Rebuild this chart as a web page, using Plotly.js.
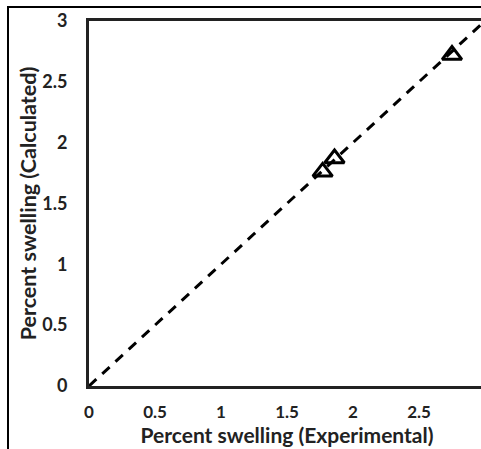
<!DOCTYPE html>
<html>
<head>
<meta charset="utf-8">
<script src="https://cdn.plot.ly/plotly-3.0.1.min.js"></script>
<style>
html,body{margin:0;padding:0;overflow:hidden;background:#fff;width:481px;height:449px;}
#frame{position:absolute;left:7px;top:6px;width:600px;height:600px;border-left:2px solid #000;border-top:2px solid #000;pointer-events:none;z-index:5;}
#chart{position:absolute;left:0;top:0;width:490px;height:449px;}
</style>
</head>
<body>
<div id="chart"></div>
<div id="frame"></div>
<script>
const experimental = [1.77, 1.86, 2.75];
const calculated = [1.76, 1.87, 2.72];
const lineX = [0, 3];
const lineY = [0, 3];
const tickVals = [0, 0.5, 1, 1.5, 2, 2.5, 3];
const tickText = ['0', '0.5', '1', '1.5', '2', '2.5', '3'];

const font = 'Lato, "Open Sans", sans-serif';

const traces = [
  {
    x: lineX, y: lineY, mode: 'lines', type: 'scatter',
    line: {color: '#000', width: 3, dash: '10px,8px'},
    hoverinfo: 'skip', showlegend: false
  },
  {
    x: experimental, y: calculated, mode: 'markers', type: 'scatter',
    marker: {symbol: 'triangle-up-open', size: 17, color: '#000', line: {color: '#000', width: 3}},
    showlegend: false, cliponaxis: false
  }
];

const layout = {
  width: 490, height: 449,
  margin: {l: 89, r: 5, t: 21, b: 63},
  paper_bgcolor: '#fff', plot_bgcolor: '#fff',
  showlegend: false,
  xaxis: {
    range: [0, 3], tickvals: tickVals, ticktext: tickText,
    showgrid: false, zeroline: false,
    showline: true, mirror: true, linecolor: '#222', linewidth: 3,
    ticks: '', ticklabelstandoff: 9,
    tickfont: {family: font, size: 17, color: '#222', weight: 'bold'},
    title: {text: 'Percent swelling (Experimental)', standoff: 2,
            font: {family: font, size: 21, color: '#222', weight: 'bold'}}
  },
  yaxis: {
    range: [0, 3], tickvals: tickVals, ticktext: tickText,
    showgrid: false, zeroline: false,
    showline: true, mirror: true, linecolor: '#222', linewidth: 3,
    ticks: '', ticklabelstandoff: 15,
    tickfont: {family: font, size: 18, color: '#222', weight: 'bold'},
    title: {text: 'Percent swelling (Calculated)', standoff: 0,
            font: {family: font, size: 21.5, color: '#222', weight: 'bold'}}
  }
};

Plotly.newPlot('chart', traces, layout, {staticPlot: true, displayModeBar: false});
</script>
</body>
</html>
